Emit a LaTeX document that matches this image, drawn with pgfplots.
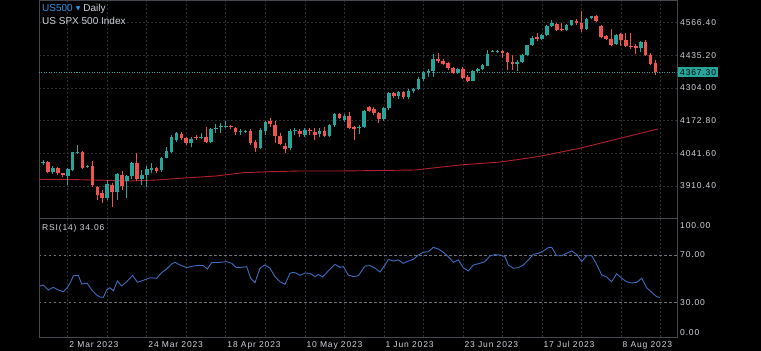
\documentclass[border=0pt]{standalone}
\usepackage{pgfplots}
\pgfplotsset{compat=1.18}
\usepackage{pgfplotstable}
\usepackage{fontspec}
\setmainfont{Liberation Sans}
\newfontfamily\tickfont[LetterSpace=10]{Liberation Sans}
\newfontfamily\symfont{DejaVu Sans}

\definecolor{upc}{RGB}{38,166,154}
\definecolor{dnc}{RGB}{239,83,80}
\definecolor{mac}{RGB}{178,32,40}
\definecolor{rsic}{RGB}{62,108,190}
\definecolor{gridc}{RGB}{44,46,54}
\definecolor{framec}{RGB}{70,72,80}
\definecolor{txtc}{RGB}{209,212,220}
\definecolor{bluec}{RGB}{41,151,235}
\definecolor{lvlc}{RGB}{110,113,122}

\pgfplotsset{
  base/.style={
    scale only axis, anchor=south west,
    width=638pt, xmin=-0.81, xmax=128.34,
    axis line style={draw=framec, line width=0.8pt},
    xtick={5,13,...,125},
    xmajorgrids, ymajorgrids,
    major grid style={draw=gridc, dash pattern=on 2pt off 2pt, line width=0.6pt},
    tick style={draw=none},
    yticklabel pos=right,
    ticklabel style={font=\tickfont\fontsize{8.5}{10}\selectfont, text=txtc},
    yticklabel style={anchor=west, inner sep=0pt, xshift=3pt},
  },
}

\pgfplotstableread{
i t o h l c
0 1 4001.5 4014.9 3994.8 4006.9
1 0 4008.2 4012.2 3961.4 3965.4
2 1 3968.0 3990.8 3958.7 3981.4
3 0 3984.1 3988.1 3954.7 3961.4
4 0 3961.4 3964.0 3945.3 3953.3
5 1 3950.6 3981.4 3914.5 3977.4
6 1 3974.7 4048.4 3970.7 4045.7
7 1 4041.7 4075.2 4039.0 4048.4
8 0 4047.0 4051.1 3980.1 3984.1
9 1 3985.5 3994.8 3981.4 3990.8
10 0 3989.5 4012.2 3907.8 3914.5
11 0 3907.8 3910.5 3854.2 3874.3
12 0 3881.0 3894.4 3840.8 3860.9
13 1 3863.6 3934.6 3854.2 3918.5
14 0 3914.5 3921.2 3827.4 3887.7
15 1 3887.7 3961.4 3854.2 3958.7
16 0 3954.7 3970.7 3894.4 3910.5
17 1 3930.6 3954.7 3860.9 3950.6
18 1 3950.6 4008.2 3937.2 4004.2
19 0 4004.2 4041.7 3931.9 3937.2
20 1 3937.2 3974.7 3914.5 3953.3
21 1 3956.0 3990.8 3905.1 3977.4
22 1 3974.7 4004.2 3964.0 3984.1
23 0 3981.4 3988.1 3964.0 3972.1
24 1 3974.7 4028.3 3968.0 4024.3
25 1 4024.3 4068.5 4021.6 4051.1
26 1 4045.7 4115.3 4041.7 4108.6
27 1 4095.2 4127.4 4088.6 4122.0
28 0 4119.4 4127.4 4095.2 4101.9
29 0 4101.9 4108.6 4075.2 4084.5
30 1 4084.5 4108.6 4068.5 4099.3
31 0 4108.6 4114.0 4095.2 4104.6
32 1 4104.6 4122.0 4097.9 4108.6
33 0 4108.6 4148.8 4084.5 4088.6
34 1 4085.9 4144.8 4081.9 4139.4
35 1 4139.4 4158.2 4122.0 4142.1
36 1 4146.1 4162.2 4122.0 4148.8
37 1 4148.8 4172.9 4142.1 4151.5
38 0 4151.5 4155.5 4138.1 4146.1
39 0 4144.8 4148.8 4115.3 4128.7
40 1 4127.4 4138.1 4115.3 4130.1
41 1 4127.4 4135.4 4122.0 4130.1
42 0 4132.7 4138.0 4075.1 4084.5
43 0 4087.2 4095.2 4048.3 4061.7
44 1 4061.7 4142.1 4057.7 4135.4
45 1 4131.4 4172.9 4115.3 4168.8
46 0 4171.5 4182.2 4146.1 4159.5
47 0 4155.5 4172.9 4084.5 4112.6
48 0 4112.6 4122.0 4075.1 4077.8
49 0 4071.1 4081.8 4041.6 4057.7
50 1 4061.7 4138.0 4055.0 4132.7
51 1 4132.7 4142.1 4115.3 4135.4
52 0 4132.7 4138.0 4108.6 4118.0
53 1 4116.6 4142.1 4108.6 4135.4
54 0 4135.4 4142.1 4115.3 4131.4
55 0 4128.7 4142.1 4095.2 4113.9
56 1 4118.0 4142.1 4108.6 4131.4
57 0 4132.7 4146.1 4105.9 4111.3
58 1 4109.9 4159.5 4105.9 4155.5
59 1 4154.1 4202.3 4148.8 4199.6
60 0 4199.6 4205.0 4179.6 4184.9
61 1 4176.9 4199.6 4168.8 4192.9
62 0 4191.6 4209.0 4138.0 4144.7
63 0 4146.1 4151.4 4095.2 4138.0
64 1 4143.4 4155.5 4119.3 4148.8
65 1 4146.1 4215.7 4142.1 4211.7
66 0 4226.4 4231.8 4209.0 4213.0
67 0 4218.4 4229.1 4195.6 4205.0
68 0 4205.0 4209.0 4164.8 4178.2
69 1 4178.2 4229.1 4172.9 4222.4
70 1 4222.4 4289.4 4215.7 4282.7
71 0 4285.3 4289.4 4262.6 4271.9
72 1 4271.9 4293.4 4258.6 4286.7
73 0 4286.7 4293.4 4258.6 4266.6
74 1 4266.6 4298.7 4261.2 4293.4
75 1 4292.0 4305.4 4282.7 4300.1
76 1 4300.1 4346.9 4296.0 4340.2
77 1 4340.2 4373.7 4333.5 4368.4
78 1 4365.7 4379.1 4349.6 4373.7
79 1 4372.4 4440.7 4349.6 4420.6
80 0 4420.6 4446.0 4403.2 4412.5
81 0 4412.5 4419.2 4395.1 4400.5
82 0 4403.2 4409.9 4376.4 4383.1
83 0 4383.1 4389.8 4360.3 4365.7
84 1 4364.3 4384.4 4360.3 4380.4
85 0 4381.7 4387.1 4341.6 4344.3
86 0 4348.3 4357.6 4328.2 4333.6
87 1 4333.6 4377.7 4330.9 4373.7
88 1 4373.7 4384.4 4364.3 4380.4
89 1 4380.4 4400.5 4376.4 4395.1
90 1 4393.8 4458.1 4391.1 4442.0
91 1 4450.0 4455.4 4447.4 4452.7
92 1 4450.0 4455.4 4446.0 4452.7
93 0 4451.4 4455.4 4424.6 4444.7
94 0 4444.7 4448.7 4377.7 4407.2
95 0 4407.2 4438.0 4377.7 4401.8
96 1 4401.8 4415.2 4371.0 4409.9
97 1 4407.2 4440.7 4404.5 4438.0
98 1 4435.3 4478.2 4431.3 4475.5
99 1 4475.5 4511.6 4471.5 4503.6
100 0 4507.6 4525.0 4491.6 4502.3
101 1 4502.3 4522.4 4498.2 4518.3
102 1 4515.7 4555.8 4511.6 4551.8
103 1 4551.8 4575.9 4547.8 4563.8
104 0 4562.5 4565.2 4531.7 4535.7
105 0 4539.7 4565.2 4531.7 4535.7
106 1 4535.7 4561.2 4531.7 4555.8
107 1 4555.8 4578.6 4551.8 4575.9
108 0 4574.6 4582.6 4558.5 4565.2
109 0 4566.5 4612.1 4529.0 4539.7
110 1 4542.4 4585.3 4538.4 4581.3
111 1 4585.3 4594.7 4581.3 4592.0
112 0 4593.3 4596.0 4569.2 4573.2
113 0 4551.8 4558.5 4504.9 4509.0
114 0 4511.6 4515.7 4498.2 4502.3
115 0 4502.3 4542.4 4471.5 4476.8
116 1 4480.8 4522.4 4478.2 4518.3
117 0 4519.7 4525.0 4471.5 4496.9
118 0 4496.9 4525.0 4467.4 4472.8
119 0 4474.1 4525.0 4462.1 4468.8
120 0 4471.5 4480.8 4440.7 4466.1
121 1 4466.1 4491.6 4447.4 4488.9
122 0 4488.9 4495.6 4431.3 4435.3
123 0 4436.6 4444.7 4395.1 4401.8
124 0 4404.5 4417.9 4357.6 4367.3
}\ohlc

\begin{document}
\begin{tikzpicture}
\fill[black] (0,0) rectangle (761pt,351pt);
\useasboundingbox (0,0) rectangle (761pt,351pt);

% ---------------- price panel ----------------
\begin{axis}[base, at={(39pt,133pt)}, height=217.5pt,
  ymin=3781.9, ymax=4655.6,
  ytick={3910.4,4041.6,4172.8,4304,4435.2,4566.4},
  yticklabels={3910.40,4041.60,4172.80,4304.00,4435.20,4566.40},
  xticklabels={},
  extra y ticks={4367.3}, extra y tick labels={4367.30},
  extra y tick style={grid=major,
     major grid style={draw=upc, dash pattern=on 1pt off 1.5pt, line width=0.8pt},
     yticklabel style={fill=upc, text=black, inner sep=2pt, xshift=-2pt}},
  colormap={updown}{color=(dnc) color=(upc)},
  point meta min=0, point meta max=1,
]
% moving average
\addplot[mac, line width=0.9pt, mark=none] coordinates {
(-0.81,3937.3) (5.47,3936.5) (12.15,3933.7) (17.61,3930.5) (22.87,3934.5)
(27.73,3941.3) (35.02,3950.6) (40.49,3963.9) (45.95,3967.9) (52.02,3970.7)
(60.12,3970.7) (68.22,3972.7) (75.30,3974.7) (84.41,3994.8) (92.51,4006.8)
(96.6,4018.0) (100.61,4030.0) (108.70,4062.0) (116.80,4102.0) (124.49,4139.4)
};
% wicks (low to high)
\addplot[mark=none, line width=1pt, line cap=butt,
  point meta=explicit,
  quiver={u=0, v={\thisrow{h}-\thisrow{l}}, colored=mapped color}]
  table[x=i, y=l, meta=t] {\ohlc};
% bodies (min(open,close) to max(open,close))
\addplot[mark=none, line width=3.6pt, line cap=butt,
  point meta=explicit,
  quiver={u=0, v={max(abs(\thisrow{c}-\thisrow{o}),4)}, colored=mapped color}]
  table[x=i, y expr={min(\thisrow{o},\thisrow{c})}, meta=t] {\ohlc};
\end{axis}

% ---------------- RSI panel ----------------
\begin{axis}[base, at={(39pt,13.5pt)}, height=119.5pt,
  ymin=0.23, ymax=101.3,
  ytick={30,70}, yticklabels={30.00,70.00},
  y grid style={draw=lvlc, dash pattern=on 2.5pt off 2.5pt, line width=0.6pt},
  extra y ticks={4.6,94.8}, extra y tick labels={0.00,100.00},
  extra y tick style={grid=none},
  xticklabels={2 Mar 2023,,24 Mar 2023,,18 Apr 2023,,10 May 2023,,1 Jun 2023,,23 Jun 2023,,17 Jul 2023,,8 Aug 2023,},
  xticklabel style={anchor=north west, inner sep=0pt, xshift=1.5pt, yshift=-3.5pt},
]
\addplot[rsic, line width=0.9pt, mark=none] coordinates {
(-0.61,43.8) (0.07,44.6) (1.08,40.4) (2.09,42.7) (3.10,40.4) (4.12,39.0)
(4.79,41.8) (5.47,46.1) (6.14,52.5) (7.15,52.8) (7.83,45.5) (8.97,46.1)
(9.85,40.4) (10.86,36.2) (11.54,34.5) (12.21,34.2) (12.89,40.4) (13.56,42.4)
(14.24,39.6) (15.05,48.0) (15.92,43.8) (16.94,47.4) (18.15,52.8) (19.10,46.9)
(20.31,48.6) (21.66,50.8) (23.01,50.3) (24.02,55.1) (25.03,58.2) (26.05,62.4)
(26.72,63.8) (27.73,61.6) (29.08,59.3) (30.43,60.7) (31.78,61.3) (32.46,61.0)
(33.27,58.2) (34.14,63.5) (35.83,63.8) (37.18,64.4) (38.19,63.0) (39.07,59.6)
(40.22,59.6) (41.23,60.1) (42.04,50.3) (42.91,46.6) (43.93,58.8) (44.94,61.6)
(45.95,58.8) (46.96,51.7) (47.98,47.4) (48.99,45.2) (50.00,54.5) (50.67,55.4)
(51.35,54.5) (52.02,52.8) (53.04,54.8) (54.05,54.5) (55.06,51.7) (55.73,53.6)
(56.61,51.4) (57.76,56.5) (59.11,62.1) (60.12,59.6) (60.80,60.1) (61.81,53.1)
(62.82,51.7) (63.83,52.5) (65.18,60.7) (66.19,61.0) (67.21,58.8) (68.22,55.6)
(69.23,61.5) (69.91,66.3) (70.92,64.9) (71.93,65.8) (72.94,63.0) (73.95,64.9)
(74.97,66.3) (75.98,70.0) (76.99,72.3) (78.00,72.8) (79.01,76.5) (80.03,75.1)
(81.04,72.3) (82.05,68.6) (83.06,63.8) (84.08,65.8) (85.09,59.3) (86.10,56.5)
(87.11,61.5) (88.46,63.0) (89.47,64.4) (90.49,69.4) (91.50,70.3) (92.51,70.0)
(93.52,68.6) (94.20,61.5) (95.21,58.8) (96.22,59.3) (97.23,61.5) (98.25,65.8)
(99.26,70.6) (100.27,71.4) (101.28,73.4) (102.29,76.2) (102.97,76.5) (103.98,69.4)
(104.99,69.4) (106.01,71.4) (107.02,73.4) (108.03,70.6) (109.04,64.4) (110.05,69.4)
(111.07,69.4) (112.08,62.1) (113.09,53.1) (114.10,51.4) (115.11,47.4) (116.13,54.2)
(117.14,50.3) (118.15,47.4) (119.16,46.3) (120.18,46.9) (121.19,50.3) (122.20,42.4)
(123.21,38.4) (124.22,34.8) (124.90,34.06)
};
\end{axis}

% ---------------- header texts ----------------
\node[anchor=base west, inner sep=0pt, font=\fontsize{10}{12}\selectfont]
  at (42pt,339pt) {\textcolor{bluec}{US500}\hspace{3pt}\raisebox{1pt}{\textcolor{bluec}{\symfont\fontsize{6}{7}\selectfont ▼}}\hspace{3pt}\textcolor{txtc}{Daily}};
\node[anchor=base west, inner sep=0pt, font=\fontsize{10}{12}\selectfont, text=txtc]
  at (42pt,326.7pt) {US SPX 500 Index};
\node[anchor=base west, inner sep=0pt, font=\tickfont\fontsize{8.5}{10}\selectfont, text=txtc]
  at (42pt,120pt) {RSI(14) 34.06};
\end{tikzpicture}
\end{document}
